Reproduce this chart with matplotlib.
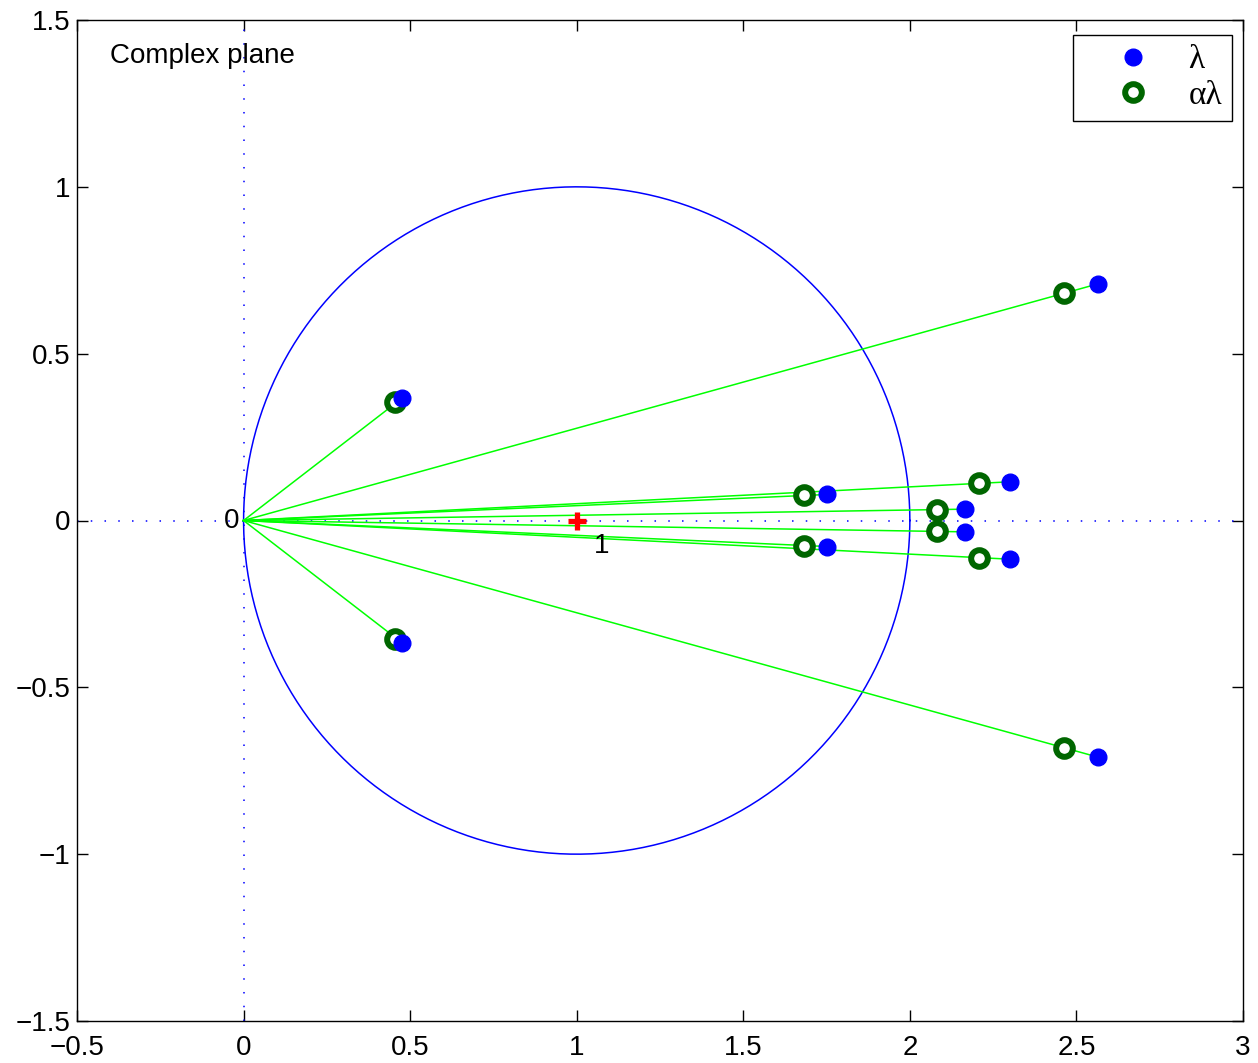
import numpy as np
import matplotlib
matplotlib.use('Agg')
import matplotlib.pyplot as plt
from matplotlib.lines import Line2D
from matplotlib.ticker import FuncFormatter

plt.rcParams['font.family'] = ['Liberation Sans', 'DejaVu Sans']

# eigenvalues lambda (blue dots)
lam_re = [0.475, 1.752, 2.166, 2.301, 2.564, 0.475, 1.752, 2.166, 2.301, 2.564]
lam_im = [0.366, 0.078, 0.034, 0.116, 0.709, -0.366, -0.078, -0.034, -0.116, -0.709]
# scaled eigenvalues alpha*lambda (green circles)
alam_re = [0.454, 1.681, 2.080, 2.209, 2.462, 0.454, 1.681, 2.080, 2.209, 2.462]
alam_im = [0.355, 0.076, 0.032, 0.111, 0.681, -0.355, -0.076, -0.032, -0.111, -0.681]

xticks = [-0.5, 0, 0.5, 1, 1.5, 2, 2.5, 3]
yticks = [-1.5, -1, -0.5, 0, 0.5, 1, 1.5]

fig = plt.figure(figsize=(12.58, 10.63), dpi=100)
ax = fig.add_axes([77/1258, 1 - 1021/1063, (1243 - 77)/1258, (1021 - 20)/1063])

# dotted real / imaginary axes
ax.plot([-0.5, 3], [0, 0], color='b', lw=1.1, dashes=(1, 8))
ax.plot([0, 0], [-1.5, 1.5], color='b', lw=1.1, dashes=(1, 8))

# unit circle centred at 1
t = np.linspace(0, 2*np.pi, 400)
ax.plot(1 + np.cos(t), np.sin(t), color='b', lw=1.1)

# rays from origin
for xr, yi in zip(lam_re, lam_im):
    ax.plot([0, xr], [0, yi], color=(0, 1, 0), lw=1.1)

green = (0, 0.4, 0)
ax.plot(alam_re, alam_im, 'o', ls='none', mfc='white', mec=green, ms=12, mew=4.3)
ax.plot(lam_re, lam_im, 'o', ls='none', mfc='b', mec='b', ms=12)
ax.plot([1], [0], '+', color='r', ms=12.5, mew=3.8)

ax.text(-0.012, 0, '0', ha='right', va='center', fontsize=20)
ax.text(1.075, -0.075, '1', ha='center', va='center', fontsize=20)
ax.text(-0.402, 1.392, 'Complex plane', ha='left', va='center', fontsize=20)

ax.set_xlim(-0.5, 3)
ax.set_ylim(-1.5, 1.5)
ax.set_xticks(xticks)
ax.set_yticks(yticks)
fmt = FuncFormatter(lambda v, p: ('%g' % v).replace('-', '\u2212'))
ax.xaxis.set_major_formatter(fmt)
ax.yaxis.set_major_formatter(fmt)
ax.tick_params(direction='in', length=8, width=1, top=True, right=True, labelsize=20)
ax.tick_params(axis='x', pad=10)
ax.tick_params(axis='y', pad=5)
for s in ax.spines.values():
    s.set_linewidth(1)

handles = [
    Line2D([], [], marker='o', ls='none', mfc='b', mec='b', ms=12),
    Line2D([], [], marker='o', ls='none', mfc='white', mec=green, ms=12, mew=4.3),
]
leg = ax.legend(handles, ['\u03bb', '\u03b1\u03bb'], loc='upper right',
                bbox_to_anchor=((1232 - 77)/1166, (1021 - 35)/1001), borderaxespad=0,
                fancybox=False, edgecolor='black', framealpha=1,
                handlelength=3.0, handletextpad=0.15, borderpad=0.3, labelspacing=0.15,
                prop={'family': ['Liberation Serif', 'DejaVu Serif'], 'size': 24})
leg.get_frame().set_linewidth(1)

fig.savefig('out.png', dpi=100)
